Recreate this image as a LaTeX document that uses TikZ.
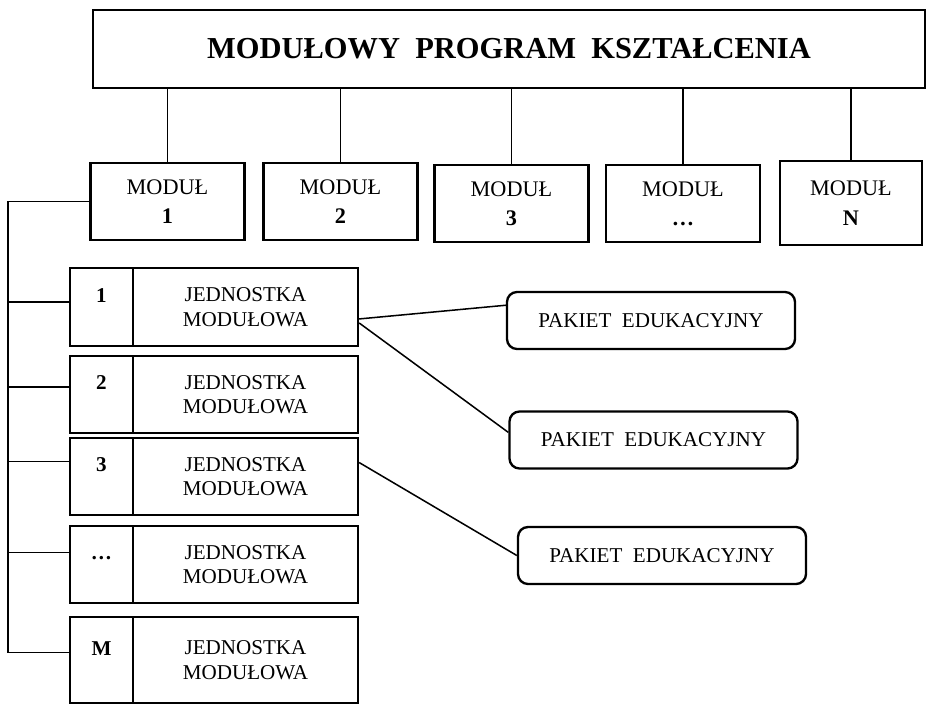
\documentclass[tikz,border=0pt]{standalone}
\usepackage{fontspec}
\setmainfont{Liberation Serif}
\tikzset{
  box/.style={draw,line width=2pt,inner sep=0pt,align=center},
  modbox/.style={box,minimum width=4.62cm,minimum height=2.31cm,font=\fontsize{19}{25}\selectfont},
  numbox/.style={box,minimum width=1.89cm,text height=0.45cm,text depth=0.75cm,font=\fontsize{18}{20}\selectfont\bfseries},
  unitbox/.style={box,minimum width=6.75cm,font=\fontsize{18}{21}\selectfont},
  pakbox/.style={box,rounded corners=0.3cm,minimum width=8.64cm,minimum height=1.71cm,font=\fontsize{18}{20}\selectfont},
  conn/.style={line width=1.3pt}
}
\begin{document}
\begin{tikzpicture}[x=0.03cm,y=-0.03cm]
\useasboundingbox (0,0) rectangle (929,704);
\node[box,minimum width=24.96cm,minimum height=2.34cm,font=\fontsize{26}{30}\selectfont\bfseries] (top) at (509,49) {MODUŁOWY\enspace PROGRAM\enspace KSZTAŁCENIA};
\node[modbox] (m1) at (167.5,201.5) {MODUŁ\\\textbf{1}};
\node[modbox] (m2) at (340.5,201.5) {MODUŁ\\\textbf{2}};
\node[modbox] (m3) at (511.5,203.5) {MODUŁ\\\textbf{3}};
\node[modbox] (m4) at (683,203.5) {MODUŁ\\\textbf{\dots}};
\node[modbox,minimum width=4.26cm,minimum height=2.52cm] (mN) at (851,203) {MODUŁ\\\textbf{N}};
\draw[conn] (m1.north) -- (m1.north |- top.south);
\draw[conn] (m2.north) -- (m2.north |- top.south);
\draw[conn] (m3.north) -- (m3.north |- top.south);
\draw[conn] (m4.north) -- (m4.north |- top.south);
\draw[conn] (mN.north) -- (mN.north |- top.south);
\node[numbox,minimum height=2.34cm] (u1n) at (101.5,307) {1};
\node[unitbox,minimum height=2.34cm] (u1) at (245.5,307) {JEDNOSTKA\\MODUŁOWA};
\node[numbox,minimum height=2.31cm] (u2n) at (101.5,394.5) {2};
\node[unitbox,minimum height=2.31cm] (u2) at (245.5,394.5) {JEDNOSTKA\\MODUŁOWA};
\node[numbox,minimum height=2.31cm] (u3n) at (101.5,476.5) {3};
\node[unitbox,minimum height=2.31cm] (u3) at (245.5,476.5) {JEDNOSTKA\\MODUŁOWA};
\node[numbox,minimum height=2.31cm] (u4n) at (101.5,564.5) {\dots};
\node[unitbox,minimum height=2.31cm] (u4) at (245.5,564.5) {JEDNOSTKA\\MODUŁOWA};
\node[numbox,minimum height=2.58cm] (uMn) at (101.5,660) {M};
\node[unitbox,minimum height=2.58cm] (uM) at (245.5,660) {JEDNOSTKA\\MODUŁOWA};
\coordinate (bus) at (8,0);
\draw[conn] (m1.west) -| (uMn.167 -| bus) -- (uMn.167);
\draw[conn] (u1n.171 -| bus) -- (u1n.171);
\draw[conn] (u2n.167 -| bus) -- (u2n.167);
\draw[conn] (u3n.155 -| bus) -- (u3n.155);
\draw[conn] (u4n.160 -| bus) -- (u4n.160);
\node[pakbox] (p1) at (651,320.5) {PAKIET\enspace EDUKACYJNY};
\node[pakbox] (p2) at (653.5,440) {PAKIET\enspace EDUKACYJNY};
\node[pakbox] (p3) at (662,555.5) {PAKIET\enspace EDUKACYJNY};
\draw[conn] (u1.-6) -- (p1.174);
\draw[conn] (u1.-8) -- (p2.177);
\draw[conn] (u3.7) -- (p3.west);
\end{tikzpicture}
\end{document}
